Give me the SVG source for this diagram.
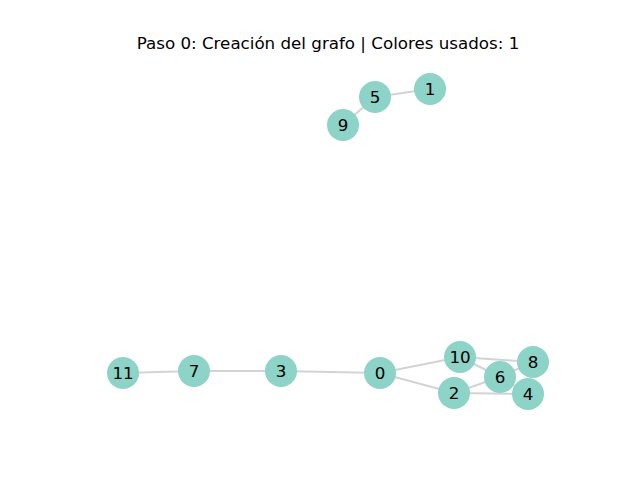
<svg xmlns="http://www.w3.org/2000/svg" width="640" height="480" viewBox="0 0 640 480">
<style>
.e{stroke:#d3d3d3;stroke-width:2;fill:none}
.n circle{fill:#8dd3c7}
.n text{font-family:"DejaVu Sans",sans-serif;font-size:16.7px;fill:#000;text-anchor:middle;dominant-baseline:central}
.t{font-family:"DejaVu Sans",sans-serif;font-size:16.7px;fill:#000;text-anchor:middle}
</style>
<rect width="640" height="480" fill="#ffffff"/>
<text class="t" x="328" y="49">Paso 0: Creación del grafo | Colores usados: 1</text>
<g id="edges">
<line class="e" x1="375" y1="97" x2="430" y2="89"/>
<line class="e" x1="375" y1="97" x2="343" y2="125"/>
<line class="e" x1="123" y1="373" x2="194" y2="371"/>
<line class="e" x1="194" y1="371" x2="281" y2="371"/>
<line class="e" x1="281" y1="371" x2="380" y2="373"/>
<line class="e" x1="380" y1="373" x2="460" y2="357"/>
<line class="e" x1="380" y1="373" x2="454" y2="393"/>
<line class="e" x1="460" y1="357" x2="533" y2="362"/>
<line class="e" x1="460" y1="357" x2="500" y2="377"/>
<line class="e" x1="454" y1="393" x2="500" y2="377"/>
<line class="e" x1="454" y1="393" x2="528" y2="394"/>
<line class="e" x1="500" y1="377" x2="533" y2="362"/>
<line class="e" x1="500" y1="377" x2="528" y2="394"/>
</g>
<g id="node-0" class="n"><circle cx="380" cy="373" r="16"/><text x="380" y="373">0</text></g>
<g id="node-1" class="n"><circle cx="430" cy="89" r="16"/><text x="430" y="89">1</text></g>
<g id="node-2" class="n"><circle cx="454" cy="393" r="16"/><text x="454" y="393">2</text></g>
<g id="node-3" class="n"><circle cx="281" cy="371" r="16"/><text x="281" y="371">3</text></g>
<g id="node-4" class="n"><circle cx="528" cy="394" r="16"/><text x="528" y="394">4</text></g>
<g id="node-5" class="n"><circle cx="375" cy="97" r="16"/><text x="375" y="97">5</text></g>
<g id="node-6" class="n"><circle cx="500" cy="377" r="16"/><text x="500" y="377">6</text></g>
<g id="node-7" class="n"><circle cx="194" cy="371" r="16"/><text x="194" y="371">7</text></g>
<g id="node-8" class="n"><circle cx="533" cy="362" r="16"/><text x="533" y="362">8</text></g>
<g id="node-9" class="n"><circle cx="343" cy="125" r="16"/><text x="343" y="125">9</text></g>
<g id="node-10" class="n"><circle cx="460" cy="357" r="16"/><text x="460" y="357">10</text></g>
<g id="node-11" class="n"><circle cx="123" cy="373" r="16"/><text x="123" y="373">11</text></g>
</svg>
